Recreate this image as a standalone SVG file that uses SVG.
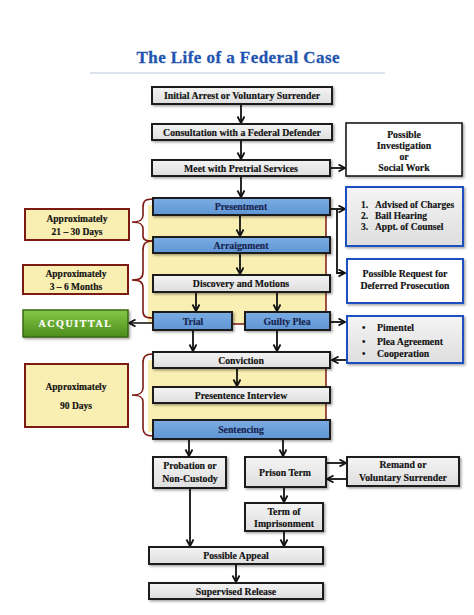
<svg xmlns="http://www.w3.org/2000/svg" width="474" height="615" viewBox="0 0 474 615">
<style>
text{font-family:"Liberation Serif","Times New Roman",serif;font-weight:bold;font-size:9.8px;text-anchor:middle;fill:#111;stroke:#111;stroke-width:0.15}
.g{fill:url(#gray);stroke:#1a1a1a;stroke-width:2;filter:url(#sh)}
.b{fill:url(#blue);stroke:#1a1a1a;stroke-width:2;filter:url(#sh)}
text.bt{fill:#17234f;stroke:#17234f}
.side{fill:#f9efb2;stroke:#7d1a12;stroke-width:2}
.ib{stroke:#1f4fc0;stroke-width:2;filter:url(#sh)}
.c line,.c path{stroke:#111;stroke-width:1.8;fill:none}
.brace{fill:none;stroke:#7d1a12;stroke-width:1.6}
text.l{text-anchor:start}
.s{font-size:9.5px}
</style>
<defs>
<linearGradient id="gray" x1="0" y1="0" x2="0" y2="1"><stop offset="0" stop-color="#f4f4f4"/><stop offset="1" stop-color="#dedede"/></linearGradient>
<linearGradient id="blue" x1="0" y1="0" x2="0" y2="1"><stop offset="0" stop-color="#7cade3"/><stop offset="1" stop-color="#5e95d4"/></linearGradient>
<linearGradient id="green" x1="0" y1="0" x2="0" y2="1"><stop offset="0" stop-color="#86c846"/><stop offset="1" stop-color="#4c8c1c"/></linearGradient>
<filter id="sh" x="-10%" y="-20%" width="130%" height="160%"><feDropShadow dx="1.5" dy="1.5" stdDeviation="1" flood-color="#000" flood-opacity="0.35"/></filter>
<marker id="ah" markerWidth="9" markerHeight="9" refX="7" refY="4" orient="auto" markerUnits="userSpaceOnUse"><path d="M0.5,0.5 L7,4 L0.5,7.5" fill="none" stroke="#111" stroke-width="1.8"/></marker>
</defs>
<rect width="474" height="615" fill="#fff"/>
<text x="238" y="63" style="font-size:17px;fill:#1f55b0;stroke:#1f55b0;stroke-width:0.3" textLength="203">The Life of a Federal Case</text>
<line x1="90" y1="73" x2="385" y2="73" stroke="#b9c7dc" stroke-width="1.2"/>
<g id="bg">
<rect x="148" y="205" width="178" height="119" fill="#f9efb2"/>
<path d="M326,212 V324 H232" fill="none" stroke="#7d1a12" stroke-width="1.5"/>
<rect x="148" y="360" width="178" height="72" fill="#f9efb2"/>
<path d="M326,365 V422" fill="none" stroke="#7d1a12" stroke-width="1.5"/>
<path class="brace" d="M153,199 C145,199 143,201 143,207 L143,215 C143,220 140,222 132,222 C140,222 143,224 143,229 L143,236 C143,240 146,241 153,241"/>
<path class="brace" d="M153,241 C145,241 143,244 143,250 L143,272 C143,278 140,280 132,280 C140,280 143,282 143,288 L143,311 C143,317 146,318 153,318"/>
<path class="brace" d="M153,354 C145,354 143,357 143,363 L143,388 C143,393 140,395 132,395 C140,395 143,397 143,402 L143,428 C143,434 146,436 153,436"/>
</g>
<g class="c" id="connectors">
<line x1="241" y1="104" x2="241" y2="123" marker-end="url(#ah)"/>
<line x1="241" y1="140" x2="241" y2="159" marker-end="url(#ah)"/>
<line x1="330" y1="168" x2="345" y2="168" marker-end="url(#ah)"/>
<line x1="241" y1="176" x2="241" y2="197" marker-end="url(#ah)"/>
<line x1="240" y1="215" x2="240" y2="236" marker-end="url(#ah)"/>
<line x1="330" y1="209" x2="345" y2="209" marker-end="url(#ah)"/>
<path d="M337,209 V273 H345" marker-end="url(#ah)"/>
<line x1="240" y1="253" x2="240" y2="274" marker-end="url(#ah)"/>
<line x1="196" y1="292" x2="196" y2="311" marker-end="url(#ah)"/>
<line x1="277" y1="292" x2="277" y2="311" marker-end="url(#ah)"/>
<line x1="153" y1="323" x2="129" y2="323" marker-end="url(#ah)" style="stroke:#333"/>
<line x1="330" y1="322" x2="345" y2="322" marker-end="url(#ah)"/>
<line x1="193" y1="330" x2="193" y2="351" marker-end="url(#ah)"/>
<line x1="277" y1="330" x2="277" y2="351" marker-end="url(#ah)"/>
<line x1="347" y1="360" x2="332" y2="360" marker-end="url(#ah)"/>
<line x1="237" y1="368" x2="237" y2="386" marker-end="url(#ah)"/>
<line x1="189" y1="439" x2="189" y2="456" marker-end="url(#ah)"/>
<line x1="283" y1="439" x2="283" y2="456" marker-end="url(#ah)"/>
<line x1="326" y1="463" x2="346" y2="463" marker-end="url(#ah)"/>
<line x1="347" y1="479" x2="327" y2="479" marker-end="url(#ah)"/>
<line x1="284" y1="487" x2="284" y2="502" marker-end="url(#ah)"/>
<line x1="190" y1="488" x2="190" y2="546" marker-end="url(#ah)"/>
<line x1="284" y1="531" x2="284" y2="546" marker-end="url(#ah)"/>
<line x1="236" y1="564" x2="236" y2="582" marker-end="url(#ah)"/>
</g>
<g id="n-arrest"><rect class="g" x="152" y="87" width="180" height="17"/><text x="242" y="99">Initial Arrest or Voluntary Surrender</text></g>
<g id="n-consult"><rect class="g" x="152" y="124" width="180" height="16"/><text x="242" y="135.5">Consultation with a Federal Defender</text></g>
<g id="n-pretrial"><rect class="g" x="152" y="160" width="178" height="16"/><text x="241" y="171.5">Meet with Pretrial Services</text></g>
<g id="n-invest"><rect x="346" y="123" width="116" height="53" fill="#fff" stroke="#1a1a1a" stroke-width="1.6" filter="url(#sh)"/>
<text x="404" y="138">Possible</text><text x="404" y="149">Investigation</text><text x="404" y="160">or</text><text x="404" y="171">Social Work</text></g>
<g id="n-present"><rect class="b" x="153" y="198" width="177" height="17"/><text class="bt" x="241" y="210">Presentment</text></g>
<g id="n-advised"><rect class="ib" x="346" y="187" width="117" height="59" fill="url(#gray)"/>
<text class="l s" x="361" y="208">1.</text><text class="l s" x="375" y="208">Advised of Charges</text>
<text class="l s" x="361" y="219">2.</text><text class="l s" x="375" y="219">Bail Hearing</text>
<text class="l s" x="361" y="229.5">3.</text><text class="l s" x="375" y="229.5">Appt. of Counsel</text></g>
<g id="n-arraign"><rect class="b" x="153" y="237" width="177" height="16"/><text class="bt" x="241" y="248.5">Arraignment</text></g>
<g id="n-deferred"><rect class="ib" x="347" y="259" width="116" height="44" fill="#fff"/>
<text x="405" y="277">Possible Request for</text><text x="405" y="288.5">Deferred Prosecution</text></g>
<g id="n-discovery"><rect class="g" x="153" y="275" width="177" height="17"/><text x="241" y="287">Discovery and Motions</text></g>
<g id="n-trial"><rect class="b" x="153" y="312" width="79" height="18"/><text class="bt" x="193" y="324.5">Trial</text></g>
<g id="n-plea"><rect class="b" x="245" y="312" width="85" height="18"/><text class="bt" x="287" y="324.5">Guilty Plea</text></g>
<g id="n-pimentel"><rect class="ib" x="347" y="316" width="116" height="47" fill="url(#gray)"/>
<text class="l" x="362" y="331">•</text><text class="l" x="377" y="331">Pimentel</text>
<text class="l" x="362" y="344.5">•</text><text class="l" x="377" y="344.5">Plea Agreement</text>
<text class="l" x="362" y="357">•</text><text class="l" x="377" y="357">Cooperation</text></g>
<g id="n-21"><rect class="side" x="25" y="209" width="104" height="31"/><text class="s" x="77" y="222">Approximately</text><text class="s" x="77" y="235">21 – 30 Days</text></g>
<g id="n-36"><rect class="side" x="23" y="265" width="105" height="29"/><text class="s" x="76" y="277">Approximately</text><text class="s" x="76" y="290">3 – 6 Months</text></g>
<g id="n-acquittal"><rect x="23" y="310" width="105" height="27" fill="url(#green)" stroke="#3a6a14" stroke-width="1.5" filter="url(#sh)"/><text x="75.5" y="327" style="fill:#fff;stroke:#fff;stroke-width:0.2;font-size:10px;letter-spacing:1.6px">ACQUITTAL</text></g>
<g id="n-conviction"><rect class="g" x="153" y="352" width="177" height="16"/><text x="241" y="363.5">Conviction</text></g>
<g id="n-presint"><rect class="g" x="153" y="387" width="177" height="16"/><text x="241" y="398.5">Presentence Interview</text></g>
<g id="n-sentencing"><rect class="b" x="153" y="420" width="177" height="19"/><text class="bt" x="241" y="433">Sentencing</text></g>
<g id="n-90"><rect class="side" x="25" y="364" width="103" height="63"/><text class="s" x="76" y="390">Approximately</text><text class="s" x="76" y="409">90 Days</text></g>
<g id="n-probation"><rect class="g" x="153" y="457" width="73" height="31"/><text x="190" y="469">Probation or</text><text x="190" y="481.5">Non-Custody</text></g>
<g id="n-prison"><rect class="g" x="245" y="457" width="81" height="30"/><text x="285" y="475.5">Prison Term</text></g>
<g id="n-remand"><rect class="g" x="347" y="457" width="112" height="29"/><text x="403" y="467.5">Remand or</text><text x="403" y="480.5">Voluntary Surrender</text></g>
<g id="n-term"><rect class="g" x="245" y="503" width="78" height="28"/><text x="284" y="515">Term of</text><text x="284" y="526.5">Imprisonment</text></g>
<g id="n-appeal"><rect class="g" x="149" y="547" width="174" height="17"/><text x="236" y="559">Possible Appeal</text></g>
<g id="n-release"><rect class="g" x="149" y="583" width="174" height="16"/><text x="236" y="594.5">Supervised Release</text></g>
</svg>
